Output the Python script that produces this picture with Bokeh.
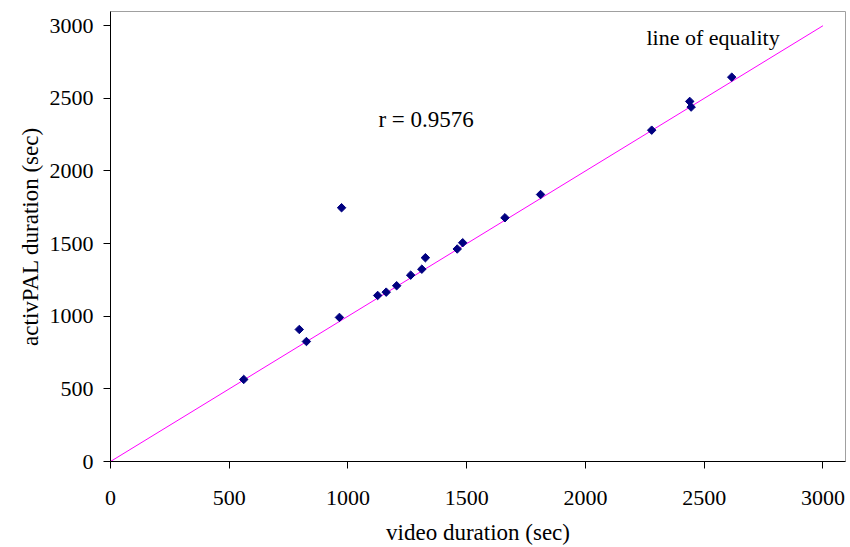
import math
from bokeh.plotting import figure
from bokeh.models import Range1d, FixedTicker, Label, ColumnDataSource
from bokeh.embed import file_html
from bokeh.resources import INLINE

video_sec = [561, 795, 825, 964, 973, 1125, 1161, 1205, 1264, 1311, 1326,
             1460, 1483, 1661, 1811, 2279, 2439, 2445, 2616]
activpal_sec = [565, 909, 826, 992, 1747, 1143, 1166, 1210, 1283, 1324, 1403,
                1463, 1506, 1678, 1838, 2281, 2479, 2440, 2646]
equality_x = [0, 3000]
equality_y = [0, 3000]
ticks = [0, 500, 1000, 1500, 2000, 2500, 3000]
r_text = "r = 0.9576"
eq_text = "line of equality"

FONT = "Liberation Serif"

p = figure(width=850, height=547, output_backend="svg", toolbar_location=None,
           x_range=Range1d(0, 3095), y_range=Range1d(0, 3098),
           min_border_left=110, min_border_right=5, min_border_top=11,
           min_border_bottom=86)
p.background_fill_color = "white"
p.border_fill_color = "white"
p.outline_line_color = "#a0a0a0"
p.outline_line_width = 1
p.xgrid.visible = False
p.ygrid.visible = False

for ax in (p.xaxis[0], p.yaxis[0]):
    ax.ticker = FixedTicker(ticks=ticks)
    ax.axis_line_color = "black"
    ax.major_tick_line_color = "black"
    ax.major_tick_out = 7
    ax.major_tick_in = 0
    ax.minor_tick_line_color = None
    ax.major_label_text_font = FONT
    ax.major_label_text_font_size = "22px"
    ax.major_label_text_color = "black"
    ax.axis_label_text_font = FONT
    ax.axis_label_text_font_size = "23px"
    ax.axis_label_text_font_style = "normal"
    ax.axis_label_text_color = "black"

p.xaxis.axis_label = "video duration (sec)"
p.yaxis.axis_label = "activPAL duration (sec)"
p.xaxis.major_label_standoff = 22
p.yaxis.major_label_standoff = 10
p.xaxis.axis_label_standoff = 12
p.yaxis.axis_label_standoff = 4
p.yaxis.major_label_orientation = "horizontal"

p.line(equality_x, equality_y, line_color="#ff00ff", line_width=1)

src = ColumnDataSource(dict(x=video_sec, y=activpal_sec))
p.scatter("x", "y", source=src, marker="square", size=6, angle=math.pi / 4,
          fill_color="#000080", line_color="#000080", line_width=1)

p.add_layout(Label(x=1128, y=2355, text=r_text, text_font=FONT,
                   text_font_size="23px", text_color="black",
                   text_baseline="alphabetic"))
p.add_layout(Label(x=2257, y=2919, text=eq_text, text_font=FONT,
                   text_font_size="22px", text_color="black",
                   text_baseline="alphabetic"))

open("out.html", "w").write(file_html(p, INLINE))
